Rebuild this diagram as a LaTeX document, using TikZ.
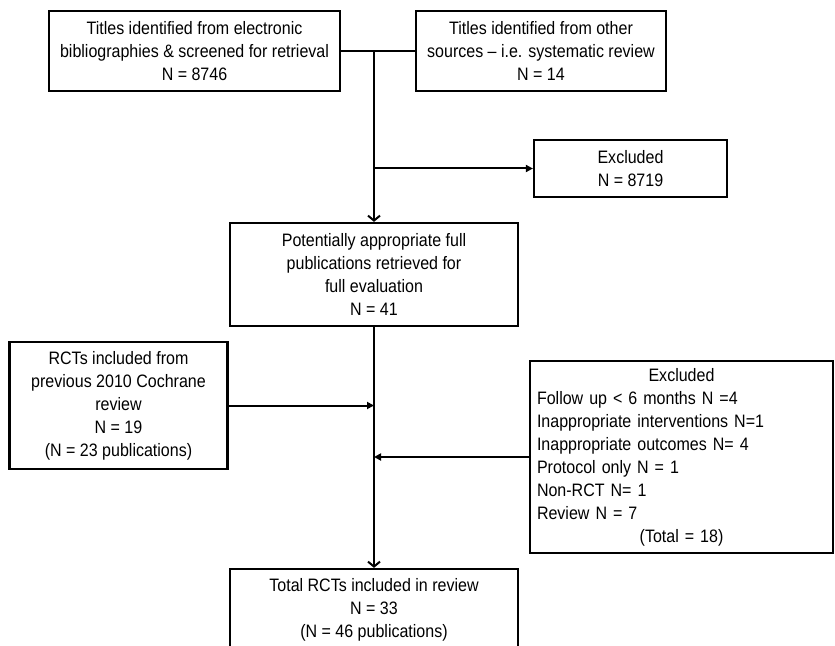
\documentclass[tikz,border=0pt]{standalone}
\usepackage{fontspec}
\setmainfont[FakeStretch=0.89]{Liberation Sans}
\usetikzlibrary{arrows.meta}

\begin{document}
\begin{tikzpicture}[x=1bp, y=-1bp,
	box/.style={draw, line width=2.2bp, rectangle, inner sep=0pt, align=center, font=\fontsize{18bp}{23bp}\selectfont},
	link/.style={line width=2bp},
	arr/.style={link, -{Straight Barb[length=5bp, width=12bp, line width=2bp]}},
	side/.style={link, -{Triangle[length=7bp, width=7bp]}}]
	\clip (0,0) rectangle (835,646);

	\node[box, minimum width=291bp, minimum height=80bp] (titles) at (194.5,51) {Titles identified from electronic\\bibliographies \& screened for retrieval\\N = 8746};
	\node[box, minimum width=250bp, minimum height=80bp] (other) at (541,51) {Titles identified from other\\sources – i.e. systematic review\\N = 14};
	\node[box, minimum width=193bp, minimum height=57bp] (excl) at (630.5,168.5) {Excluded\\N = 8719};
	\node[box, minimum width=288bp, minimum height=103bp] (full) at (374,274.5) {Potentially appropriate full\\publications retrieved for\\full evaluation\\N = 41};
	\node[box, minimum width=218bp, minimum height=127bp] (prev) at (118.5,405.5) {RCTs included from\\previous 2010 Cochrane\\review\\N = 19\\(N = 23 publications)};
	\node[box, align=left, text width=289bp, minimum height=192bp, inner xsep=7bp] (reasons) at (681.5,457) {\makebox[\linewidth]{Excluded}\\Follow up < 6 months N =4\\Inappropriate interventions N=1\\Inappropriate outcomes N= 4\\Protocol only N = 1\\Non-RCT N= 1\\Review N = 7\\\makebox[\linewidth]{(Total = 18)}};
	\node[box, minimum width=288bp, minimum height=81bp] (total) at (374,609.5) {Total RCTs included in review\\N = 33\\(N = 46 publications)};

	\coordinate (join) at (374,51);
	\coordinate (split) at (374,168.5);

	\draw[link] (titles.east) -- (other.west);
	\draw[arr] (join) -- (full.north);
	\draw[side] (split) -- (excl.west);
	\draw[arr] (full.south) -- (total.north);
	\draw[side] (prev.east) -- (prev.east -| full.south);
	\draw[side] (reasons.west) -- (reasons.west -| full.south);

\end{tikzpicture}
\end{document}
